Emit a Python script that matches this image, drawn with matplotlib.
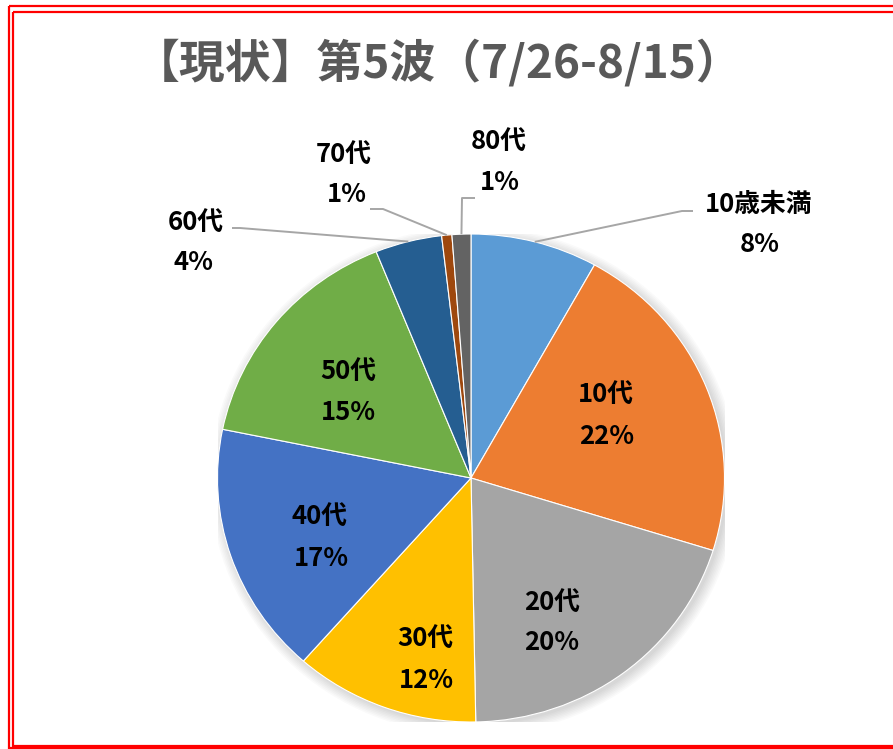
import numpy as np
import matplotlib
matplotlib.use("Agg")
import matplotlib.pyplot as plt
from matplotlib.patches import Ellipse, Rectangle

plt.rcParams['font.family'] = ['Noto Sans CJK JP', 'DejaVu Sans']

# data (share of cases, %)
groups = ["10歳未満", "10代", "20代", "30代", "40代", "50代", "60代", "70代", "80代"]
shares = [8.1, 21.7, 19.9, 11.8, 16.7, 15.7, 4.25, 0.65, 1.2]
pct_labels = ["8%", "22%", "20%", "12%", "17%", "15%", "4%", "1%", "1%"]
colors = ["#5B9BD5", "#ED7D31", "#A5A5A5", "#FFC000", "#4472C4",
          "#70AD47", "#255E91", "#9E480E", "#636363"]
title = "【現状】第5波（7/26-8/15）"

W, H = 893, 749
cx, cy, rx, ry = 471, 478, 253.5, 244

# label positions in pixels (name line, percent line)
label_pos = [((759, 205), (760, 245)),
             ((606, 394), (607, 436)),
             ((552, 602), (552, 643)),
             ((425, 638), (426, 680)),
             ((320, 516), (321, 558)),
             ((348, 371), (348, 412)),
             ((196, 222), (193, 263)),
             ((344, 154), (347, 195)),
             ((499, 141), (500, 183))]
# leader lines: index -> (elbow, end)
leaders = {0: ((682, 211), (693, 211)),
           6: ((240, 228), (232, 228)),
           7: ((383, 209), (370, 209)),
           8: ((462, 198), (475, 198))}

fig = plt.figure(figsize=(W / 100, H / 100), dpi=100)

# pie axes sized to the (slightly elliptical) pie
axp = fig.add_axes([(cx - rx) / W, (H - cy - ry) / H, 2 * rx / W, 2 * ry / H])
# soft shadow
for k in range(8):
    axp.add_patch(Ellipse((0.012, -0.012), 2 + 0.012 * k, 2 + 0.012 * k,
                          color="black", alpha=0.018, lw=0))
wedges, _ = axp.pie(shares, colors=colors, startangle=90, counterclock=False,
                    radius=1, wedgeprops=dict(edgecolor="white", linewidth=0.8))
axp.set_aspect('auto')
axp.set_xlim(-1, 1)
axp.set_ylim(-1, 1)
axp.axis('off')

# overlay in pixel coordinates
ax = fig.add_axes([0, 0, 1, 1], zorder=5)
ax.set_xlim(0, W)
ax.set_ylim(H, 0)
ax.axis('off')
ax.patch.set_alpha(0)

ax.text(438, 64, title, ha='center', va='center', fontsize=33,
        fontweight='bold', color='#595959')

for i, (name, pct) in enumerate(zip(groups, pct_labels)):
    (nx, ny), (px, py) = label_pos[i]
    ax.text(nx, ny, name, ha='center', va='center', fontsize=18.5,
            fontweight='bold', color='black')
    ax.text(px, py, pct, ha='center', va='center', fontsize=18.5,
            fontweight='bold', color='black')

# leader lines start on the pie edge at the middle of each wedge
cum = np.cumsum([0] + shares)
for i, (elbow, end) in leaders.items():
    mid = (cum[i] + cum[i + 1]) / 2 / 100 * 2 * np.pi
    p = axp.transData.transform((np.sin(mid), np.cos(mid)))
    sx, sy = ax.transData.inverted().transform(p)
    ax.plot([sx, elbow[0], end[0]], [sy, elbow[1], end[1]],
            color="#A6A6A6", lw=1.4, solid_capstyle='butt')

# double red border
ax.add_patch(Rectangle((8.5, 6), 900, 742, fill=False, ec="red", lw=1.6))
ax.add_patch(Rectangle((12.5, 12), 900, 734, fill=False, ec="red", lw=1.6))

fig.savefig("out.png", dpi=100)
